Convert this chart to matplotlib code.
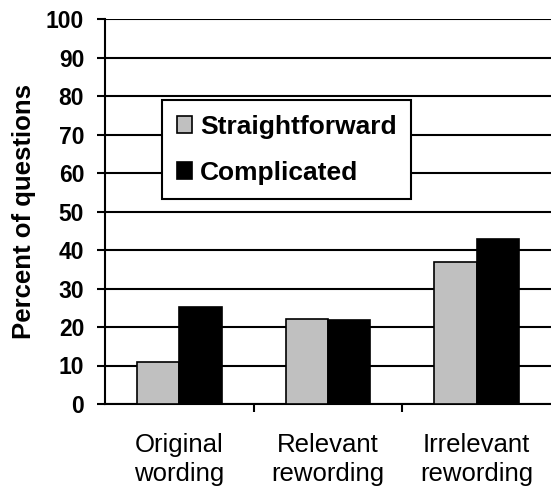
import matplotlib.pyplot as plt
import numpy as np

plt.rcParams['font.family'] = ['Liberation Sans', 'DejaVu Sans']

categories = ['Original\nwording', 'Relevant\nrewording', 'Irrelevant\nrewording']
straightforward = [11, 22, 37]
complicated = [25.2, 21.7, 42.9]

fig = plt.figure(figsize=(5.51, 4.88), dpi=100)
ax = fig.add_axes([105/551, 1 - 404/488, 446/551, 385/488])

x = np.arange(len(categories))
width = 0.285
ax.bar(x - width/2, straightforward, width, color='#c0c0c0', edgecolor='black',
       linewidth=1.2, label='Straightforward', zorder=3)
ax.bar(x + width/2, complicated, width, color='black', edgecolor='black',
       linewidth=1.2, label='Complicated', zorder=3)

ax.set_xlim(-0.5, 2.5)
ax.set_ylim(0, 100)
ax.set_yticks(np.arange(0, 101, 10))
ax.yaxis.grid(True, color='black', linewidth=1.5, zorder=0)
ax.tick_params(axis='y', labelsize=16.5, width=1.5, length=6, direction='out', pad=9)
for t in ax.get_yticklabels():
    t.set_fontweight('bold')

# category ticks sit between groups, labels at group centres
ax.set_xticks([0.5, 1.5])
ax.set_xticklabels([])
ax.set_xticks(x, minor=True)
ax.set_xticklabels(categories, minor=True, fontsize=18.5, linespacing=1.25)
ax.tick_params(axis='x', which='minor', length=0, pad=21)
ax.tick_params(axis='x', which='major', width=1.5, length=6, direction='out')

for s in ['top', 'right']:
    ax.spines[s].set_visible(False)
ax.spines['left'].set_linewidth(1.5)
ax.spines['bottom'].set_linewidth(1.5)

ax.set_ylabel('Percent of questions', fontsize=18.5, fontweight='bold', labelpad=7)

leg = ax.legend(loc='upper left', bbox_to_anchor=(57/446, 304/385),
                prop={'weight': 'bold', 'size': 19}, frameon=True, fancybox=False,
                handlelength=0.6, handleheight=0.6, handletextpad=0.3,
                borderpad=0.55, labelspacing=0.85, borderaxespad=0)
leg.get_frame().set_edgecolor('black')
leg.get_frame().set_linewidth(1.5)
leg.get_frame().set_alpha(1)
leg.set_zorder(5)

fig.savefig('out.png', dpi=100)
